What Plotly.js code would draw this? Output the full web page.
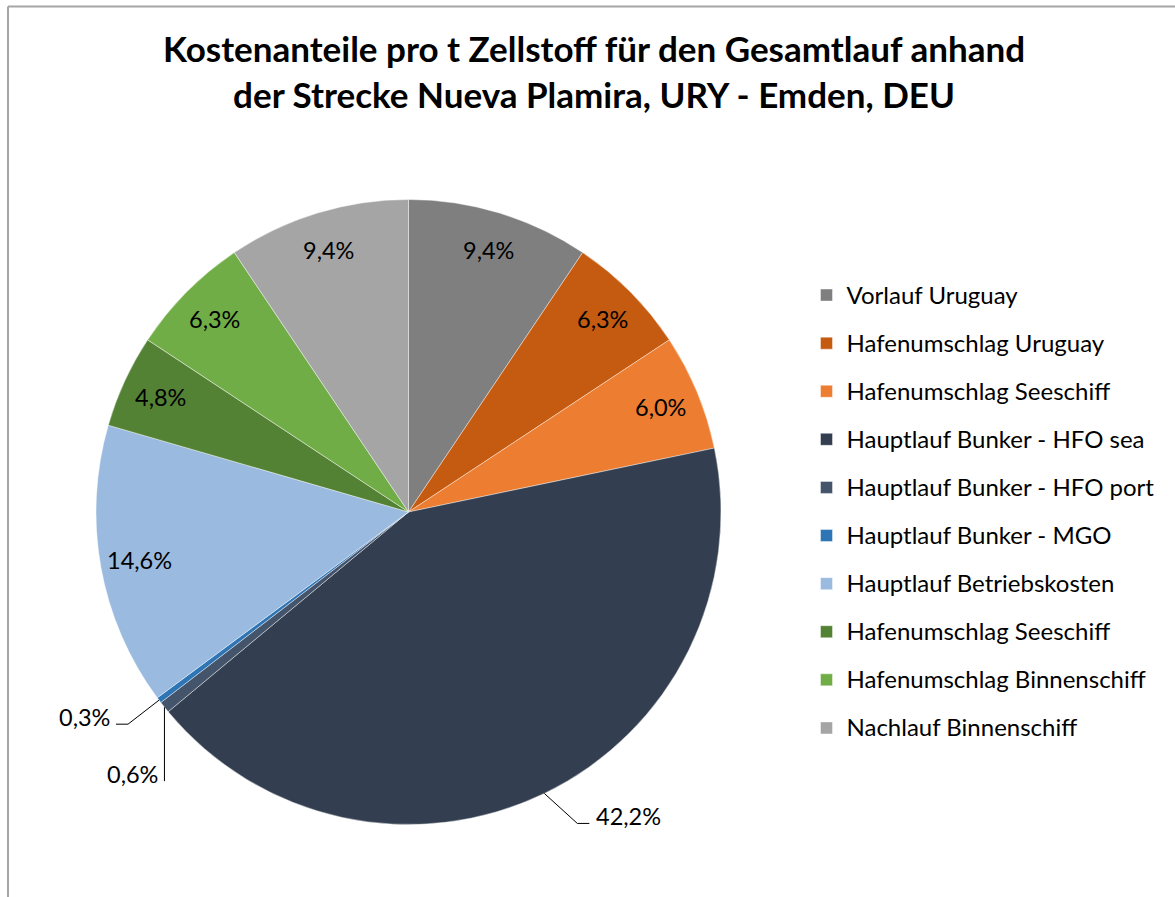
<!DOCTYPE html>
<html><head><meta charset="utf-8">
<script src="https://cdn.plot.ly/plotly-3.0.1.min.js"></script>
<style>html,body{margin:0;padding:0;background:#fff}#chart{width:1175px;height:897px}</style>
</head><body><div id="chart"></div>
<script>
// ---- data ----
const categories = ["Vorlauf Uruguay", "Hafenumschlag Uruguay", "Hafenumschlag Seeschiff",
  "Hauptlauf Bunker - HFO sea", "Hauptlauf Bunker - HFO port", "Hauptlauf Bunker - MGO",
  "Hauptlauf Betriebskosten", "Hafenumschlag Seeschiff", "Hafenumschlag Binnenschiff",
  "Nachlauf Binnenschiff"];
const shares = [9.4, 6.3, 6.0, 42.2, 0.6, 0.3, 14.6, 4.8, 6.3, 9.4];
const sliceColors = ["#7f7f7f", "#c55a11", "#ed7d31", "#333f50", "#44546a", "#2e75b6",
  "#9abae0", "#548235", "#70ad47", "#a5a5a5"];
const titleLine1 = "Kostenanteile pro t Zellstoff für den Gesamtlauf anhand";
const titleLine2 = "der Strecke Nueva Plamira, URY - Emden, DEU";

// ---- layout constants ----
const W = 1175, H = 897;
const CX = 408.5, CY = 512, R = 312.5;
const FONT = "Lato, 'Open Sans', sans-serif";
const LABEL_SIZE = 23.5;
// leader-line styles for labels drawn outside (index -> pixel offsets)
const outside = {
  3: {dx: 33, dy: 30, hx: 12, tx: 5, side: "left"},
  4: {dx: 0, dy: 74, hx: 0, tx: -4, side: "right"},
  5: {dx: -31, dy: 24, hx: -12, tx: -4, side: "right"}
};

const px = x => x / W;
const py = y => 1 - y / H;

// unique legend labels (duplicate names get an invisible suffix)
const seen = {};
const legendLabels = categories.map(c => {
  const n = seen[c] || 0; seen[c] = n + 1;
  return '<span style="font-size:24px;baseline-shift:5px">' + c + '</span>' + '\u200b'.repeat(n);
});

const total = shares.reduce((a, b) => a + b, 0);
const labelText = shares.map(v => v.toFixed(1).replace('.', ',') + '%');

const annotations = [];
const shapes = [];
let cum = 0;
shares.forEach((v, i) => {
  const th = 2 * Math.PI * (cum + v / 2) / total;
  cum += v;
  const s = Math.sin(th), c = Math.cos(th);
  const o = outside[i];
  if (!o) {
    const r = 0.875 * R;
    annotations.push({x: px(CX + r * s), y: py(CY - r * c), xref: "paper", yref: "paper",
      text: labelText[i], showarrow: false, xanchor: "center", yanchor: "middle",
      font: {family: FONT, size: LABEL_SIZE, color: "#000"}});
  } else {
    const ex = CX + R * s, ey = CY - R * c;
    const bx = ex + o.dx, by = ey + o.dy;
    const hx = bx + o.hx;
    shapes.push({type: "path", xref: "paper", yref: "paper",
      path: `M${px(ex)},${py(ey)} L${px(bx)},${py(by)} L${px(hx)},${py(by)}`,
      line: {color: "#000", width: 1}});
    annotations.push({x: px(hx + o.tx), y: py(by - 7), xref: "paper", yref: "paper",
      text: labelText[i], showarrow: false, xanchor: o.side, yanchor: "middle",
      font: {family: FONT, size: LABEL_SIZE, color: "#000"}});
  }
});

// chart frame (top and left edge)
shapes.push({type: "line", xref: "paper", yref: "paper", x0: px(8), x1: px(1175), y0: py(6.5), y1: py(6.5),
  line: {color: "#a6a6a6", width: 2}});
shapes.push({type: "line", xref: "paper", yref: "paper", x0: px(8), x1: px(8), y0: py(6.5), y1: py(897),
  line: {color: "#a6a6a6", width: 2}});

const trace = {
  type: "pie",
  labels: legendLabels,
  values: shares,
  sort: false,
  direction: "clockwise",
  rotation: 0,
  textinfo: "none",
  hoverinfo: "percent",
  marker: {colors: sliceColors, line: {color: "rgba(255,255,255,0.7)", width: 0.6}},
  domain: {x: [px(CX - R), px(CX + R)], y: [py(CY + R), py(CY - R)]}
};

const layout = {
  width: W, height: H,
  margin: {l: 0, r: 0, t: 0, b: 0},
  paper_bgcolor: "#fff",
  title: {
    text: titleLine1 + "<br>" + titleLine2,
    x: px(594), xanchor: "center", xref: "paper",
    y: py(62), yanchor: "top", yref: "container",
    font: {family: FONT, size: 35, color: "#000", weight: "bold"}
  },
  showlegend: true,
  legend: {
    x: px(806.5), xanchor: "left", y: py(266), yanchor: "top",
    font: {family: FONT, size: 34.69, color: "#000"},
    bgcolor: "rgba(0,0,0,0)", borderwidth: 0
  },
  annotations: annotations,
  shapes: shapes
};

Plotly.newPlot("chart", [trace], layout, {displayModeBar: false, staticPlot: true});
</script>
</body></html>
